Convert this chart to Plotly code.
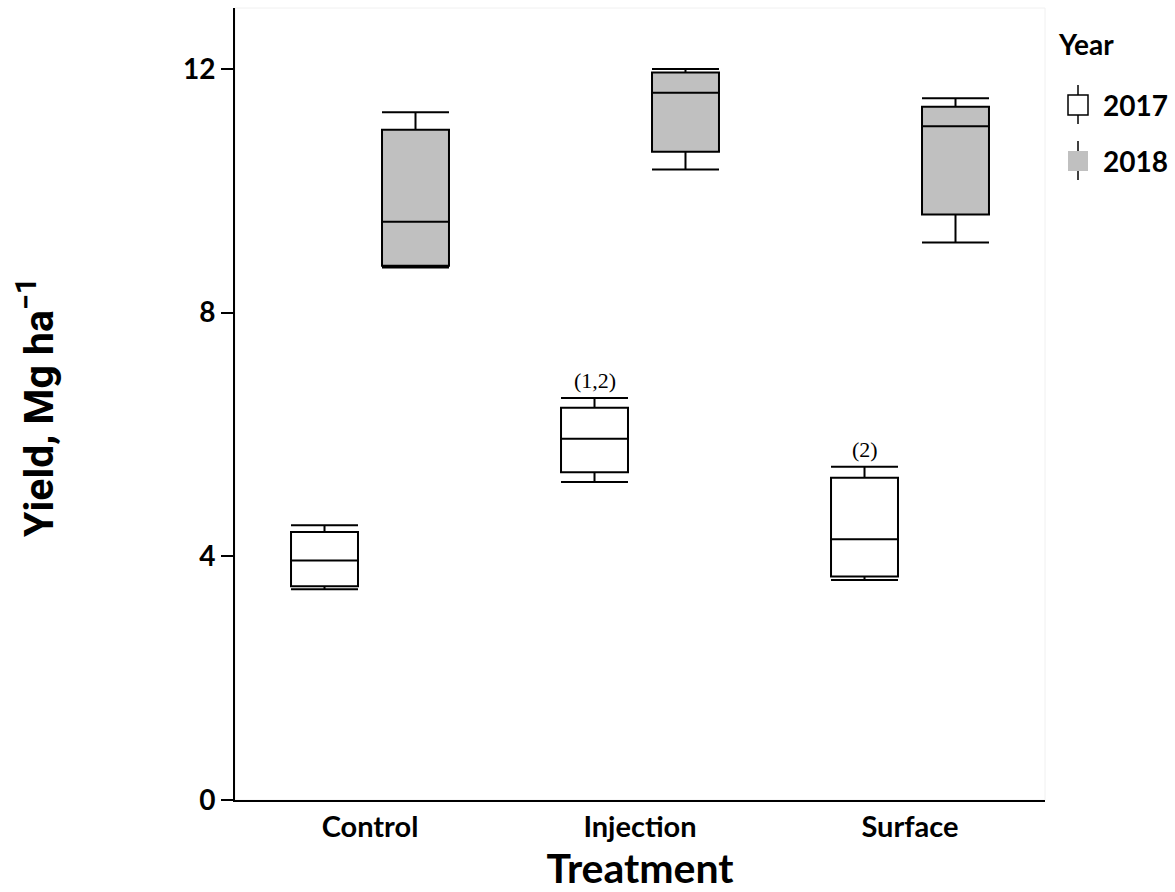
import plotly.graph_objects as go

# Treatment groups on the x axis
treatments = ["Control", "Injection", "Surface"]

# Five-number summaries of yield (Mg/ha) per treatment, 2017
y2017_low = [3.46, 5.22, 3.61]
y2017_q1 = [3.51, 5.38, 3.67]
y2017_med = [3.93, 5.93, 4.28]
y2017_q3 = [4.40, 6.44, 5.29]
y2017_high = [4.51, 6.60, 5.47]

# Five-number summaries of yield (Mg/ha) per treatment, 2018
y2018_low = [8.74, 10.35, 9.15]
y2018_q1 = [8.77, 10.64, 9.61]
y2018_med = [9.49, 11.61, 11.06]
y2018_q3 = [11.00, 11.94, 11.38]
y2018_high = [11.29, 12.00, 11.52]

# Significance notes placed above the 2017 boxes
notes_2017 = ["", "(1,2)", "(2)"]

y_ticks = [0, 4, 8, 12]
years = ["2017", "2018"]
year_fill = ["white", "#c0c0c0"]

W, H = 1175, 892
M = dict(l=235, r=130, t=8, b=92)
BOXGAP = 0.326
plot_w = W - M["l"] - M["r"]
plot_h = H - M["t"] - M["b"]
slot_px = plot_w / len(treatments) * (1 - BOXGAP) / 2


def px_x(px):
    """Page pixel column -> paper x."""
    return (px - M["l"]) / plot_w


def px_y(py):
    """Page pixel row -> paper y."""
    return (H - M["b"] - py) / plot_h


line = dict(color="black", width=2)
BOLD = "Lato"

fig = go.Figure()
for name, fill, lo, q1, med, q3, hi in [
    (years[0], year_fill[0], y2017_low, y2017_q1, y2017_med, y2017_q3, y2017_high),
    (years[1], year_fill[1], y2018_low, y2018_q1, y2018_med, y2018_q3, y2018_high),
]:
    fig.add_trace(go.Box(
        name=name, x=treatments,
        lowerfence=lo, q1=q1, median=med, q3=q3, upperfence=hi,
        fillcolor=fill, line=line, whiskerwidth=1,
        boxpoints=False, showlegend=False,
    ))

for cat, note, top in zip(treatments, notes_2017, y2017_high):
    if note:
        fig.add_annotation(
            x=cat, y=top, text=note, showarrow=False,
            xshift=-slot_px / 2, yanchor="bottom", yshift=3,
            font=dict(family="Liberation Serif", size=22, color="black"),
        )

# y axis title, rotated, sitting near the left edge of the page
fig.add_annotation(
    xref="paper", yref="paper", x=px_x(36), y=px_y(408),
    text="<b>Yield, Mg ha<sup>−1</sup></b>", textangle=-90, showarrow=False,
    xanchor="center", yanchor="middle",
    font=dict(family="Roboto", size=41, color="black"),
)

# faint frame around the plotting area
fig.add_shape(type="rect", xref="paper", yref="paper", x0=0, x1=1, y0=0, y1=1,
              line=dict(color="#f0f0f0", width=1), layer="below")

# hand-drawn legend: box glyph with whiskers plus the year label
fig.add_annotation(
    xref="paper", yref="paper", x=px_x(1056), y=px_y(44),
    text="<b>Year</b>", showarrow=False, xanchor="left", yanchor="middle",
    font=dict(family=BOLD, size=28, color="black"),
)
for i, (yr, fill) in enumerate(zip(years, year_fill)):
    cy = 105 + i * 56
    cx = 1078
    border = dict(color="black", width=1.5) if fill == "white" else dict(width=0)
    fig.add_shape(type="rect", xref="paper", yref="paper",
                  x0=px_x(cx - 10), x1=px_x(cx + 10), y0=px_y(cy + 10), y1=px_y(cy - 10),
                  fillcolor=fill, line=border)
    for a, b in [(cy - 20, cy - 10), (cy + 10, cy + 19)]:
        fig.add_shape(type="line", xref="paper", yref="paper",
                      x0=px_x(cx), x1=px_x(cx), y0=px_y(a), y1=px_y(b),
                      line=dict(color="black", width=1.5))
    fig.add_annotation(
        xref="paper", yref="paper", x=px_x(1101), y=px_y(cy),
        text=f"<b>{yr}</b>", showarrow=False, xanchor="left", yanchor="middle",
        font=dict(family=BOLD, size=28, color="black"),
    )

fig.update_layout(
    width=W, height=H, margin=M,
    paper_bgcolor="white", plot_bgcolor="white",
    boxmode="group", boxgap=BOXGAP, boxgroupgap=0.264,
    showlegend=False,
    xaxis=dict(
        title=dict(text="<b>Treatment</b>", font=dict(family=BOLD, size=41, color="black"), standoff=12),
        tickfont=dict(family=BOLD, size=29, color="black"),
        ticktext=[f"<b>{t}</b>" for t in treatments], tickvals=treatments,
        showline=True, linecolor="black", linewidth=2,
        ticks="", showgrid=False, zeroline=False,
    ),
    yaxis=dict(
        range=[0, 13.0], tickvals=y_ticks,
        ticktext=[f"<b>{v}</b>" for v in y_ticks],
        tickfont=dict(family=BOLD, size=28, color="black"),
        showline=True, linecolor="black", linewidth=2,
        ticks="outside", ticklen=12, tickwidth=2, tickcolor="black",
        showgrid=False, zeroline=False,
    ),
)

fig.write_html("out.html")
